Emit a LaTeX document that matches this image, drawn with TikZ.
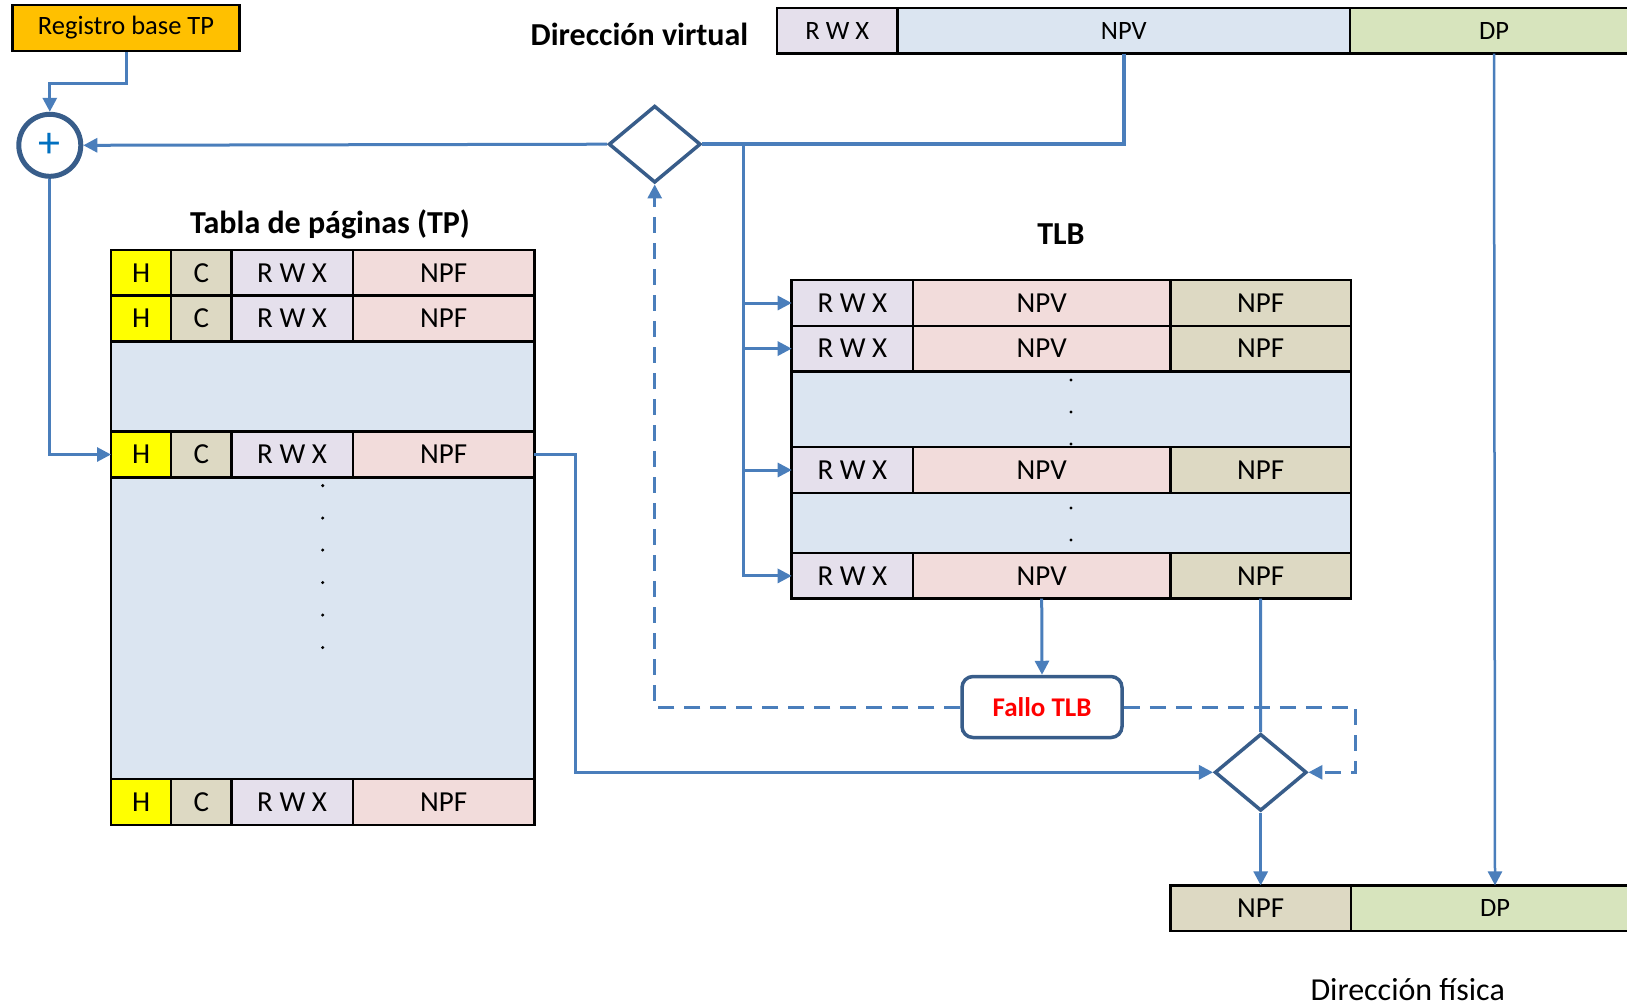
\documentclass[tikz,border=0pt]{standalone}
\usepackage{fontspec}
\setmainfont{Carlito}
\usepackage{tikz}
\usetikzlibrary{arrows.meta, positioning, shapes.geometric, calc}
\definecolor{flow}{HTML}{4A7EBB}
\definecolor{frame}{HTML}{385D8A}
\definecolor{plusblue}{HTML}{0070C0}
\definecolor{regfill}{HTML}{FFC000}
\definecolor{hbit}{HTML}{FFFF00}
\definecolor{cbit}{HTML}{DDD9C3}
\definecolor{perm}{HTML}{E5E0EC}
\definecolor{rose}{HTML}{F2DCDB}
\definecolor{gap}{HTML}{DBE5F1}
\definecolor{offs}{HTML}{D7E4BD}

\begin{document}
\begin{tikzpicture}[
  x=1pt, y=-1pt,
  cell/.style={draw, line width=2.5pt, inner sep=0pt, outer sep=0pt, minimum height=45.6pt,
    anchor=west, font=\fontsize{29}{35}\selectfont},
  addrcell/.style={cell, font=\fontsize{26.5}{32}\selectfont},
  gapbox/.style={draw, fill=gap, line width=2.5pt},
  title/.style={anchor=base, font=\fontsize{32}{38}\selectfont\bfseries},
  check/.style={diamond, draw=frame, line width=3.5pt, fill=white, inner sep=0pt,
    minimum width=92pt, minimum height=77pt},
  flow/.style={line width=3pt, color=flow, -{Triangle[length=14pt, width=14pt]}},
  miss/.style={flow, dash pattern=on 16pt off 10pt}
]
\useasboundingbox (0,0) rectangle (1627,1005);
\clip (0,0) rectangle (1627,1005);

% registro base y sumador
\node[draw, line width=2.5pt, fill=regfill, minimum width=227pt, minimum height=46pt,
  inner sep=0pt, font=\fontsize{26.5}{32}\selectfont] (reg) at (126,28) {Registro base TP};
\node[circle, draw=frame, line width=5pt, fill=white, minimum size=62pt, inner sep=0pt,
  text=plusblue, font=\fontsize{44}{46}\selectfont] (plus) at (49.8,145.3) {+};

% direccion virtual
\node[title] (vatitle) at (639.5,45) {Dirección virtual};
\node[addrcell, fill=perm, minimum width=120.5pt] (va-rwx) at (777,30.8) {R W X};
\node[addrcell, fill=gap, minimum width=452.5pt, right=0pt of va-rwx] (va-npv) {NPV};
\node[addrcell, fill=offs, minimum width=288pt, right=0pt of va-npv] (va-dp) {DP};

% tabla de paginas
\node[title] (tptitle) at (330,233) {Tabla de páginas (TP)};
\draw[gapbox] (111,341.4) rectangle (534.4,431.6);
\draw[gapbox] (111,477.3) rectangle (534.4,779.2);
\foreach \r/\ry in {1/272.9, 2/318.6, 3/454.5, 4/802} {
  \node[cell, fill=hbit, minimum width=60.2pt] (tp\r-h) at (111,\ry) {H};
  \node[cell, fill=cbit, minimum width=60.2pt, right=0pt of tp\r-h] (tp\r-c) {C};
  \node[cell, fill=perm, minimum width=121.4pt, right=0pt of tp\r-c] (tp\r-rwx) {R W X};
  \node[cell, fill=rose, minimum width=181.6pt, right=0pt of tp\r-rwx] (tp\r-npf) {NPF};
}
\foreach \dy in {485.6, 518, 550, 582.5, 615, 647.5}
  \fill (322.7,\dy) circle (1.7);

% TLB
\node[title] (tlbtitle) at (1061,244) {TLB};
\draw[gapbox] (791.7,371.5) rectangle (1351,447.2);
\draw[gapbox] (791.7,492.9) rectangle (1351,553);
\foreach \r/\ry in {1/303, 2/348.6, 3/470, 4/575.9} {
  \node[cell, fill=perm, minimum width=121.3pt] (tlb\r-rwx) at (791.7,\ry) {R W X};
  \node[cell, fill=rose, minimum width=257.4pt, right=0pt of tlb\r-rwx] (tlb\r-npv) {NPV};
  \node[cell, fill=cbit, minimum width=180.6pt, right=0pt of tlb\r-npv] (tlb\r-npf) {NPF};
}
\foreach \dy in {380, 412, 444, 508, 540}
  \fill (1071,\dy) circle (1.7);

% comparadores y fallo
\node[check] (d1) at (654.7,144.2) {};
\node[check] (d2) at (1260.7,772.3) {};
\node[draw=frame, line width=3.5pt, rounded corners=11pt, fill=white, minimum width=160pt,
  minimum height=61pt, text=red, font=\fontsize{27}{32}\selectfont\bfseries] (fallo) at (1042,707) {Fallo TLB};

% direccion fisica
\node[cell, fill=cbit, minimum width=180.6pt] (pa-npf) at (1170.4,908.2) {NPF};
\node[addrcell, fill=offs, minimum width=288pt, right=0pt of pa-npf] (pa-dp) {DP};
\node[anchor=base, font=\fontsize{32}{38}\selectfont] (patitle) at (1407.7,1000) {Dirección física};

% conexiones
\coordinate (br) at (743,144.2);
\draw[flow] (reg.south) -- ++(0,31) -| (plus.north);
\draw[line width=4pt, color=flow] (va-npv.south) |- (d1.east);
\draw[flow] (d1.west) -- (plus.east);
\draw[flow] (plus.south) |- (tp3-h.west);
\foreach \r in {1,2,3,4}
  \draw[flow] (br) |- (tlb\r-rwx.west);
\draw[flow] (tp3-npf.east) -- ++(41.5,0) |- (d2.west);
\draw[flow] (tlb4-npv.south) -- (fallo.north);
\draw[line width=3pt, color=flow] (tlb4-npf.south) -- (d2.north);
\draw[miss] (fallo.west) -| (d1.south);
\draw[miss] (fallo.east) -- ++(232,0) |- (d2.east);
\draw[flow] (d2.south) -- (pa-npf.north);
\draw[flow, line width=2.5pt] (va-dp.south) -- (pa-dp.north);
\end{tikzpicture}
\end{document}
